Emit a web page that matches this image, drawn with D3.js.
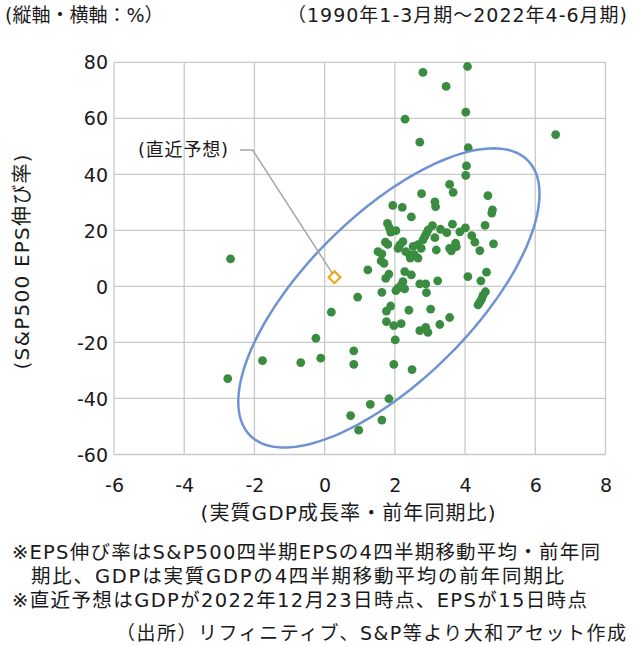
<!DOCTYPE html>
<html><head><meta charset="utf-8">
<script src="https://cdn.jsdelivr.net/npm/d3@7"></script>
<style>
body{margin:0;background:#fff}
svg{display:block}
text{font-family:"DejaVu Sans","Noto Sans CJK JP",sans-serif;fill:#1a1a1a}
</style>
</head><body>
<svg id="c" width="633" height="646"></svg>
<script>
// 実質GDP成長率（前年同期比, %）
const gdpGrowth = [
  2.80,4.07,3.46,4.02,2.29,6.58,2.71,4.09,4.04,4.02,
  3.56,3.66,2.76,4.65,3.14,3.16,1.94,2.21,2.47,4.78,
  4.76,1.79,1.84,1.88,2.03,4.57,3.64,3.07,2.95,3.30,
  3.48,3.85,4.01,4.19,4.28,3.14,4.81,1.73,1.80,2.09,
  2.14,2.23,2.42,2.52,2.66,2.80,2.85,2.90,2.75,2.56,
  2.31,2.44,2.66,1.52,1.63,1.61,1.69,3.18,3.56,3.61,
  3.73,3.75,4.42,1.23,1.83,1.74,2.28,2.47,2.23,2.18,
  2.09,2.03,2.28,2.71,2.88,2.90,3.22,4.08,4.61,4.45,
  4.58,4.51,4.47,4.42,4.37,0.94,1.63,1.88,1.76,2.40,
  3.02,1.76,1.97,2.18,2.71,2.88,2.94,3.28,3.56,2.01,
  0.83,0.83,1.97,2.49,1.83,1.30,0.74,1.63,0.97,0.19,
  -0.25,-1.77,-0.68,-0.11,-2.76,-2.68
];
// S&P500 EPS伸び率（前年同期比, %）
const epsGrowth = [
  76.4,78.5,71.4,62.2,59.7,54.2,51.5,49.5,43.0,39.6,
  36.4,33.6,33.1,32.4,30.2,28.5,28.9,28.2,24.8,27.3,
  26.2,22.5,21.0,19.4,19.9,21.8,22.2,21.7,20.2,20.4,
  19.2,19.5,20.9,18.1,15.8,17.4,15.2,15.8,15.0,13.6,
  14.8,16.0,11.3,14.3,14.9,16.6,17.8,18.9,13.6,11.3,
  12.4,10.1,10.1,12.4,11.6,9.1,8.2,13.0,13.6,12.7,
  15.4,14.2,12.8,5.9,4.4,2.9,5.3,4.1,1.7,0.4,
  -0.6,-1.5,-0.9,0.9,0.9,-2.2,2.0,3.5,5.1,2.0,
  -1.9,-3.2,-4.5,-5.6,-6.6,-3.8,-2.1,-7.0,-8.8,-8.5,
  -8.1,-12.6,-14.0,-13.3,-15.8,-14.6,-16.4,-13.6,-11.1,-19.1,
  -23.0,-27.8,-27.8,-29.7,-40.1,-42.1,-46.1,-47.7,-51.3,-9.2,
  -18.5,-26.5,-27.2,-25.6,-32.9,9.8
];
// 直近予想 [GDP, EPS]
const latestForecast = [0.28, 3.3];
const xTicks = [-6,-4,-2,0,2,4,6,8];
const yTicks = [-60,-40,-20,0,20,40,60,80];
// 楕円（データ単位）: x = cx + ax cos t, y = cy + ay cos t + by sin t
const ellipseCx = 1.83, ellipseCy = -4.1, ellipseAx = 4.29, ellipseAy = 37.1, ellipseBy = 38.4;

const headerLeft = "(縦軸・横軸：%）";
const headerRight = "（1990年1-3月期～2022年4-6月期)";
const xTitle = "(実質GDP成長率・前年同期比)";
const yTitle = "(S&P500 EPS伸び率)";
const annotation = "(直近予想)";
const notes = [
  "※EPS伸び率はS&P500四半期EPSの4四半期移動平均・前年同",
  "期比、GDPは実質GDPの4四半期移動平均の前年同期比",
  "※直近予想はGDPが2022年12月23日時点、EPSが15日時点"
];
const source = "（出所）リフィニティブ、S&P等より大和アセット作成";

const svg = d3.select("#c");
const L = 114, R = 605.5, T = 62.3, B = 454.5;
const x = d3.scaleLinear().domain([-6, 8]).range([L, R]);
const y = d3.scaleLinear().domain([-60, 80]).range([B, T]);
const FONT = '"DejaVu Sans","Noto Sans CJK JP",sans-serif';
const fmt = d => String(d);

const grid = svg.append("g");
grid.selectAll("line.v").data(xTicks).join("line")
  .attr("x1", d => x(d)).attr("x2", d => x(d)).attr("y1", T).attr("y2", B)
  .attr("stroke", "#c9c9c9").attr("stroke-width", 1.3);
grid.selectAll("line.h").data(yTicks).join("line")
  .attr("y1", d => y(d)).attr("y2", d => y(d)).attr("x1", L).attr("x2", R)
  .attr("stroke", "#c9c9c9").attr("stroke-width", 1.3);

// axis labels via d3 axes
const yAxis = svg.append("g").attr("transform", `translate(${L - 6},0)`)
  .call(d3.axisLeft(y).tickValues(yTicks).tickSize(0).tickPadding(0).tickFormat(fmt));
const xAxis = svg.append("g").attr("transform", `translate(0,${B + 23})`)
  .call(d3.axisBottom(x).tickValues(xTicks).tickSize(0).tickPadding(0).tickFormat(fmt));
[yAxis, xAxis].forEach(a => {
  a.select(".domain").remove();
  a.selectAll("text").attr("font-size", 19).attr("font-family", FONT).attr("fill", "#1a1a1a");
});
xAxis.selectAll("text").attr("dy", "0.75em");
yAxis.selectAll("text").attr("dy", "0.35em");

// points
const pts = gdpGrowth.map((g, i) => [g, epsGrowth[i]]);
svg.append("g").selectAll("circle").data(pts).join("circle")
  .attr("cx", d => x(d[0])).attr("cy", d => y(d[1])).attr("r", 4.4)
  .attr("fill", "#3a8d40");

// ellipse
const ts = d3.range(0, 2 * Math.PI + 0.001, Math.PI / 90);
const ell = ts.map(t => [ellipseCx + ellipseAx * Math.cos(t), ellipseCy + ellipseAy * Math.cos(t) + ellipseBy * Math.sin(t)]);
svg.append("path").datum(ell)
  .attr("d", d3.line().x(d => x(d[0])).y(d => y(d[1])).curve(d3.curveLinearClosed))
  .attr("fill", "none").attr("stroke", "#6f93d2").attr("stroke-width", 2.5);

// annotation leader
const fx = x(latestForecast[0]), fy = y(latestForecast[1]);
svg.append("polyline")
  .attr("points", `240,150 252.7,150 ${fx - 1},${fy - 2}`)
  .attr("fill", "none").attr("stroke", "#a6a6a6").attr("stroke-width", 1.5);
svg.append("path")
  .attr("d", d3.symbol().type(d3.symbolDiamond2).size(90)())
  .attr("transform", `translate(${fx},${fy})`)
  .attr("fill", "#fff").attr("stroke", "#f5a00f").attr("stroke-width", 2);

function txt(s, x0, y0, size, anchor, len) {
  const t = svg.append("text").attr("x", x0).attr("y", y0).attr("dy", "0.35em")
    .attr("font-size", size).attr("text-anchor", anchor || "start").text(s);
  if (len) t.attr("textLength", len).attr("lengthAdjust", "spacing");
  return t;
}
txt(annotation, 138, 150, 18, "start", 90);

// titles
txt(headerLeft, 5, 15, 19);
txt(headerRight, 627, 15, 19, "end", 340);
txt(xTitle, 348, 513, 20, "middle", 295);
svg.append("text").attr("transform", "translate(22,262) rotate(-90)").attr("dy", "0.35em")
  .attr("text-anchor", "middle").attr("font-size", 20)
  .attr("textLength", 215).attr("lengthAdjust", "spacing").text(yTitle);

// notes
txt(notes[0], 12, 552, 19.5, "start", 588);
txt(notes[1], 31, 576, 19.5, "start", 533);
txt(notes[2], 12, 600, 19.5, "start", 575);
txt(source, 626, 633, 19, "end", 510);
</script>
</body></html>
